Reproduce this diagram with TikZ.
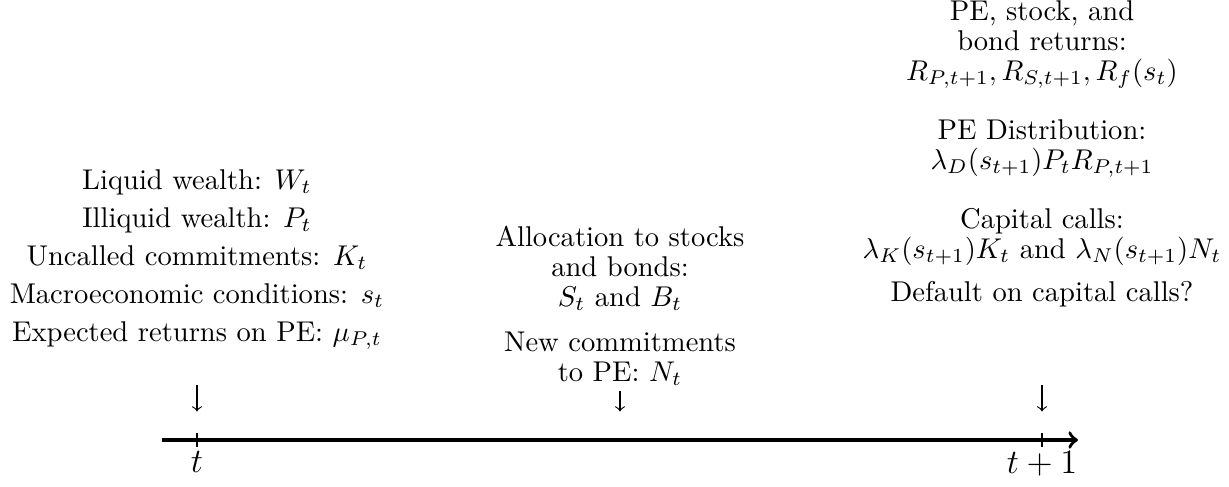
\documentclass[tikz,border=0pt]{standalone}
\begin{document}
\begin{tikzpicture}[x=0.35pt,y=-0.35pt,
  lbl/.style={align=center, inner sep=0pt, font=\fontsize{10pt}{10.5pt}\selectfont},
  downarrow/.style={->, thin},
  axisline/.style={->, very thick},
  tick/.style={thin}]
\useasboundingbox (0,0) rectangle (1229,486);
% axis
\coordinate (a0) at (162,440);
\coordinate (a1) at (1078,440);
\coordinate (tA) at (197,440);
\coordinate (tM) at (620,440);
\coordinate (tB) at (1042,440);
\draw[axisline] (a0) -- (a1);
\draw[tick] ([yshift=-2.5pt]tA) -- ([yshift=2.5pt]tA);
\draw[tick] ([yshift=-2.5pt]tB) -- ([yshift=2.5pt]tB);
\node[anchor=north, inner sep=0pt, font=\large] (lt) at (197,451) {$t$};
\node[anchor=north, inner sep=0pt, font=\large] (lt1) at (1042,451) {$t+1$};
% left block
\node[lbl, anchor=south] (left) at (197,350) {Liquid wealth: $W_t$\\[2.8pt]
Illiquid wealth: $P_t$\\[2.8pt]
Uncalled commitments: $K_t$\\[2.8pt]
Macroeconomic conditions: $s_t$\\[2.8pt]
Expected returns on PE: $\mu_{P,t}$};
% center block
\node[lbl, anchor=south] (mid) at (620,386) {Allocation to stocks\\ and bonds:\\ $S_t$ and $B_t$\\[5.25pt]
New commitments\\ to PE: $N_t$};
% right block
\node[lbl, anchor=south] (right) at (1042,308) {PE, stock, and\\ bond returns:\\ $R_{P,t+1}, R_{S,t+1}, R_f(s_t)$\\[10.15pt]
PE Distribution:\\ $\lambda_D(s_{t+1})P_tR_{P,t+1}$\\[10.15pt]
Capital calls:\\ $\lambda_K(s_{t+1})K_t$ and $\lambda_N(s_{t+1})N_t$\\[4.7pt]
Default on capital calls?};
% down arrows
\draw[downarrow] ([yshift=-12.25pt]left.south) -- ([yshift=10pt]tA);
\draw[downarrow] ([yshift=-1.6pt]mid.south) -- ([yshift=10pt]tM);
\draw[downarrow] ([yshift=-27pt]right.south) -- ([yshift=10pt]tB);
\end{tikzpicture}
\end{document}
